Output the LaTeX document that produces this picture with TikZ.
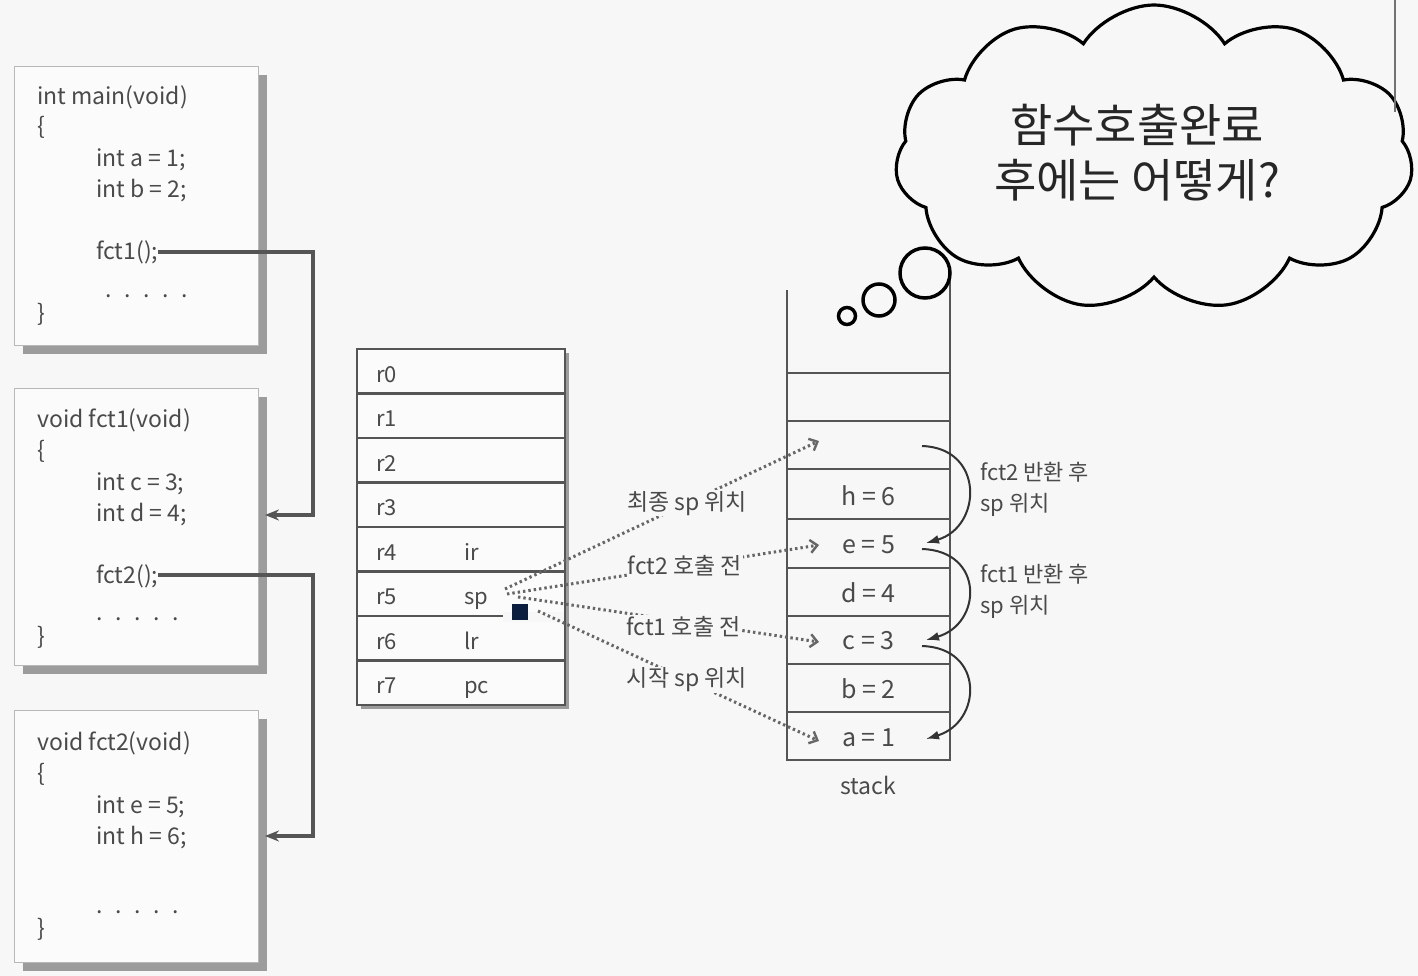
\documentclass[tikz,border=0pt]{standalone}
\usepackage{fontspec}
\setmainfont{Noto Sans CJK KR}
\usetikzlibrary{shapes.symbols,arrows.meta,shadows}
\definecolor{bg}{HTML}{F7F7F7}
\definecolor{txt}{HTML}{4A4A4A}
\definecolor{ln}{HTML}{555555}
\definecolor{shd}{HTML}{9C9C9C}
\definecolor{sq}{HTML}{0B1E3F}
\begin{document}
\begin{tikzpicture}[x=1pt,y=-1pt,
  code/.style={anchor=base west,inner sep=0,text=txt,font=\fontsize{23}{27}\selectfont},
  codebox/.style={draw=black!28,fill=white!50!bg,line width=1.4pt,anchor=north west,inner sep=0,
     minimum width=244pt,drop shadow={shadow xshift=8pt,shadow yshift=-8pt,fill=shd,opacity=1}},
  callconn/.style={draw=ln,line width=3.2pt,-{Stealth[length=14pt,width=11pt]}},
  regrow/.style={draw=ln,line width=2.2pt,fill=white!50!bg,minimum width=208pt,minimum height=44.5pt,inner sep=0},
  reglbl/.style={anchor=base west,inner sep=0,text=txt,font=\fontsize{22}{26}\selectfont},
  cell/.style={minimum width=163pt,minimum height=48.4pt,inner sep=0,text=txt,font=\fontsize{25}{29}\selectfont},
  sline/.style={draw=ln,line width=2.4pt},
  dotarrow/.style={draw=black!60,line width=3pt,dash pattern=on 2.4pt off 3pt,-{Straight Barb[length=7pt,width=13pt,line width=2.4pt]}},
  onlbl/.style={fill=bg,inner sep=1pt,text=txt,font=\fontsize{23}{27}\selectfont},
  retarrow/.style={draw=black!80,line width=2pt,-{Latex[length=13pt,width=9pt]}},
  sidelbl/.style={anchor=base west,inner sep=0,text=txt,font=\fontsize{22}{26}\selectfont},
  bubble/.style={circle,draw=black,line width=3.5pt,fill=bg,inner sep=0}
]
\useasboundingbox (0,0) rectangle (1418,976);
\fill[bg] (0,0) rectangle (1418,976);

% ---------- code boxes ----------
\node[codebox,minimum height=279pt] (mainbox) at (14,66) {};
\node[codebox,minimum height=277pt] (f1box) at (14,388) {};
\node[codebox,minimum height=252pt] (f2box) at (14,710) {};

\node[code] (m1) at (37,105) {int main(void)};
\node[code] (m2) at (37,135) {\{};
\node[code] (m3) at (96,167) {int a = 1;};
\node[code] (m4) at (96,198) {int b = 2;};
\node[code] (c1) at (96,260) {fct1();};
\node[code] (m6) at (105,298) {.\hspace{0.55em}.\hspace{0.55em}.\hspace{0.55em}.\hspace{0.55em}.};
\node[code] (m7) at (37,321) {\}};

\node[code] (a1) at (37,427) {void fct1(void)};
\node[code] (a2) at (37,458) {\{};
\node[code] (a3) at (96,490) {int c = 3;};
\node[code] (a4) at (96,521) {int d = 4;};
\node[code] (c2) at (96,583) {fct2();};
\node[code] (a6) at (96,620) {.\hspace{0.55em}.\hspace{0.55em}.\hspace{0.55em}.\hspace{0.55em}.};
\node[code] (a7) at (37,644) {\}};

\node[code] (b1) at (37,750) {void fct2(void)};
\node[code] (b2) at (37,781) {\{};
\node[code] (b3) at (96,813) {int e = 5;};
\node[code] (b4) at (96,844) {int h = 6;};
\node[code] (b6) at (96,913) {.\hspace{0.55em}.\hspace{0.55em}.\hspace{0.55em}.\hspace{0.55em}.};
\node[code] (b7) at (37,936) {\}};

\coordinate (j1) at (313,252);
\coordinate (in1) at (265,515);
\coordinate (j2) at (313,575);
\coordinate (in2) at (265,836);
\draw[callconn] (c1.east |- j1) -- (j1) |- (in1);
\draw[callconn] (c2.east |- j2) -- (j2) |- (in2);

% ---------- registers ----------
\fill[shd] (361,353) rectangle (569,709);
\foreach \i/\r/\s in {0/r0/,1/r1/,2/r2/,3/r3/,4/r4/ir,5/r5/sp,6/r6/lr,7/r7/pc}{
  \node[regrow] (reg\i) at (461,{371.25+44.5*\i}) {};
  \node[reglbl] (rn\i) at (376,{382+44.5*\i}) {\r};
  \node[reglbl] (rs\i) at (464,{382+44.5*\i}) {\s};
}
\fill[bg] (503,612) rectangle (563.5,622);
\node[fill=sq,minimum size=16pt,inner sep=0] (spsq) at (520,612) {};

% ---------- stack ----------
\node[cell] (st0) at (868.5,447) {};
\node[cell] (st1) at (868.5,496) {h = 6};
\node[cell] (st2) at (868.5,544.5) {e = 5};
\node[cell] (st3) at (868.5,593) {d = 4};
\node[cell] (st4) at (868.5,641) {c = 3};
\node[cell] (st5) at (868.5,689) {b = 2};
\node[cell] (st6) at (868.5,737.5) {a = 1};
\draw[sline] (787,290) -- (787,760) -- (950,760) -- (950,280);
\foreach \y in {373,421,469,519,568,616,664,712}{
  \draw[sline] (787,\y) -- (950,\y);
}
\node[text=txt,font=\fontsize{23}{27}\selectfont,inner sep=0] (stk) at (868,785) {stack};

% ---------- dotted sp arrows ----------
\coordinate (s1) at (505,589);
\coordinate (s2) at (507,594);
\coordinate (s3) at (518,597);
\coordinate (s4) at (538,611);
\coordinate (t1) at (819,441);
\coordinate (t2) at (819,545);
\coordinate (t3) at (819,642);
\coordinate (t4) at (819,741);
\draw[dotarrow] (s1) -- node[onlbl,pos=0.58] (l1) {최종 sp 위치} (t1);
\draw[dotarrow] (s2) -- node[onlbl,pos=0.57] (l2) {fct2 호출 전} (t2);
\draw[dotarrow] (s3) -- node[onlbl,pos=0.55,yshift=-5pt] (l3) {fct1 호출 전} (t3);
\draw[dotarrow] (s4) -- node[onlbl,pos=0.53] (l4) {시작 sp 위치} (t4);

% ---------- return arrows ----------
\coordinate (u1) at (922,446);
\coordinate (v1) at (926,543);
\coordinate (u2) at (922,549);
\coordinate (v2) at (926,640);
\coordinate (u3) at (922,646);
\coordinate (v3) at (926,739);
\draw[retarrow] (u1) .. controls (985,448) and (982,527) .. (v1);
\draw[retarrow] (u2) .. controls (985,551) and (982,624) .. (v2);
\draw[retarrow] (u3) .. controls (985,648) and (982,722) .. (v3);
\node[sidelbl] (k1) at (980,480) {fct2 반환 후};
\node[sidelbl] (k2) at (980,511) {sp 위치};
\node[sidelbl] (k3) at (980,582) {fct1 반환 후};
\node[sidelbl] (k4) at (980,613) {sp 위치};

% ---------- cloud ----------
\node[cloud,draw=black,line width=3.2pt,fill=bg,cloud puffs=11,cloud puff arc=115,
      cloud ignores aspect,minimum width=518pt,minimum height=306pt,inner sep=0] (cloud) at (1154,158) {};
\node[align=center,font=\fontsize{46}{55}\selectfont,inner sep=0,text=black!85] (q) at (1137,153)
  {함수호출완료\\후에는 어떻게?};
\node[bubble,minimum size=50pt] (o1) at (925,273) {};
\node[bubble,minimum size=32pt] (o2) at (879,300) {};
\node[bubble,minimum size=17pt] (o3) at (847,316) {};
\draw[draw=black!55,line width=2pt] (1395,0) -- (1395,112);
\end{tikzpicture}
\end{document}
